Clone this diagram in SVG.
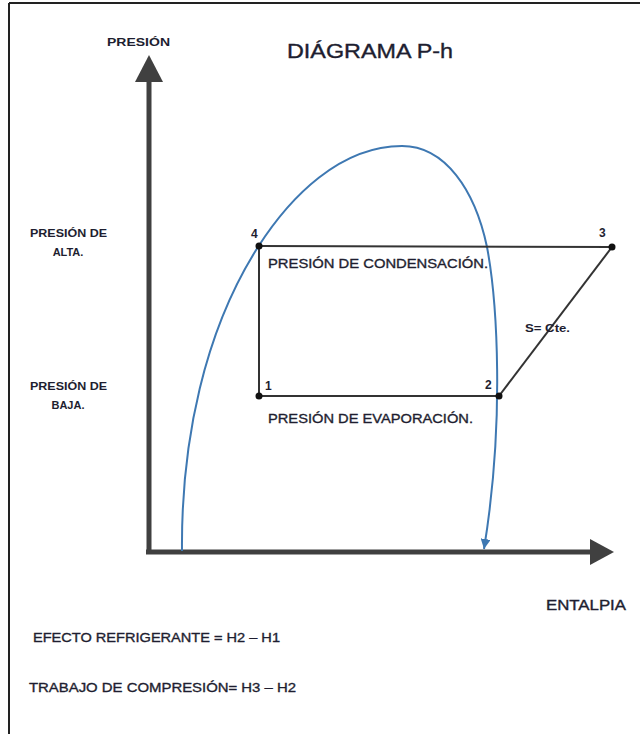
<svg xmlns="http://www.w3.org/2000/svg" width="640" height="734" viewBox="0 0 640 734">
<defs>
<style>
.t{font-family:"Liberation Sans",Arial,sans-serif;fill:#1e1e30}
.n{stroke:#1e1e30;stroke-width:0.35}
.b{font-weight:bold}
.axis{stroke:#404040;stroke-width:5;fill:none}
.cyc{stroke:#333;stroke-width:2;fill:none}
.dot{fill:#111}
.curve{stroke:#3e78b2;stroke-width:2;fill:none}
</style>
<marker id="blueArrow" viewBox="0 0 10 10" refX="10" refY="5" markerWidth="10" markerHeight="10" markerUnits="userSpaceOnUse" orient="auto">
<path d="M0,0 L10,5 L0,10 Z" fill="#3e78b2"/>
</marker>
</defs>
<rect x="0" y="0" width="640" height="734" fill="#fff"/>
<g id="frame">
<line x1="9" y1="3" x2="640" y2="3" stroke="#222" stroke-width="2"/>
<line x1="9" y1="3" x2="9" y2="734" stroke="#222" stroke-width="2"/>
</g>
<g id="axes">
<line class="axis" x1="146" y1="552" x2="592" y2="552"/>
<line class="axis" x1="149" y1="552" x2="149" y2="80"/>
<path d="M149,55 L163,82 L135,82 Z" fill="#404040"/>
<path d="M614,552 L590,539 L590,565 Z" fill="#404040"/>
</g>
<g id="saturation-curve">
<path class="curve" marker-end="url(#blueArrow)" d="M182,551 C181,440 205,330 258,247 C290,197 340,146 402,146 C445,146 475,190 487,247 C497,300 505,420 484,549"/>
</g>
<g id="connectors">
<line class="cyc" x1="259" y1="246" x2="612" y2="247"/>
<line class="cyc" x1="259" y1="246" x2="259" y2="396"/>
<line class="cyc" x1="259" y1="396" x2="499" y2="396"/>
<line class="cyc" x1="499" y1="396" x2="612" y2="247"/>
</g>
<g id="point-4"><circle class="dot" cx="259" cy="246" r="3.5"/><text class="t b" x="251" y="238" font-size="12">4</text></g>
<g id="point-3"><circle class="dot" cx="612" cy="247" r="3.5"/><text class="t b" x="599" y="237" font-size="12">3</text></g>
<g id="point-2"><circle class="dot" cx="499" cy="396" r="3.5"/><text class="t b" x="485" y="389" font-size="12">2</text></g>
<g id="point-1"><circle class="dot" cx="259" cy="396" r="3.5"/><text class="t b" x="265" y="390" font-size="12">1</text></g>
<g id="labels">
<text class="t b" x="107" y="46" font-size="11.5" textLength="63" lengthAdjust="spacingAndGlyphs">PRESIÓN</text>
<text class="t n" x="287" y="58" font-size="19.5" textLength="166" lengthAdjust="spacingAndGlyphs">DIÁGRAMA P-h</text>
<text class="t b" x="30" y="237" font-size="11" textLength="77" lengthAdjust="spacingAndGlyphs">PRESIÓN DE</text>
<text class="t b" x="68" y="256" font-size="11" text-anchor="middle">ALTA.</text>
<text class="t b" x="30" y="390" font-size="11" textLength="77" lengthAdjust="spacingAndGlyphs">PRESIÓN DE</text>
<text class="t b" x="68" y="409" font-size="11" text-anchor="middle">BAJA.</text>
<text class="t n" x="268" y="268" font-size="13.5" textLength="220" lengthAdjust="spacingAndGlyphs">PRESIÓN DE CONDENSACIÓN.</text>
<text class="t n" x="268" y="423" font-size="13.5" textLength="205" lengthAdjust="spacingAndGlyphs">PRESIÓN DE EVAPORACIÓN.</text>
<text class="t b" x="525" y="332" font-size="10" textLength="45" lengthAdjust="spacingAndGlyphs">S= Cte.</text>
<text class="t n" x="546" y="610" font-size="14" textLength="80" lengthAdjust="spacingAndGlyphs">ENTALPIA</text>
<text class="t n" x="33" y="642" font-size="13.5" textLength="247" lengthAdjust="spacingAndGlyphs">EFECTO REFRIGERANTE = H2 – H1</text>
<text class="t n" x="29" y="692" font-size="13.5" textLength="267" lengthAdjust="spacingAndGlyphs">TRABAJO DE COMPRESIÓN= H3 – H2</text>
</g>
</svg>
